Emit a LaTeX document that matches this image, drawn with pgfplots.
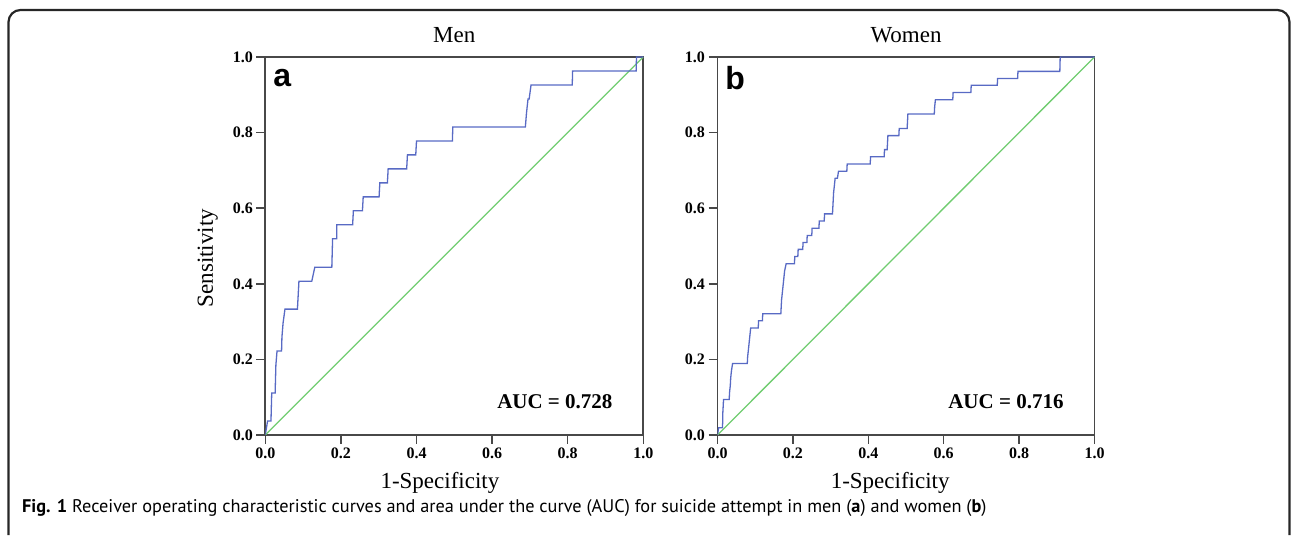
\documentclass[border=0pt]{standalone}
\usepackage{pgfplots}
\pgfplotsset{compat=1.18}
\usepackage{fontspec}
\setmainfont{Liberation Serif}
\newfontfamily\capfont{PT Sans}
\newfontfamily\arialfont{Liberation Sans}
\definecolor{rocblue}{RGB}{88,106,196}
\definecolor{rocgreen}{RGB}{112,204,112}
\definecolor{axgray}{RGB}{72,72,72}

\pgfplotstableread{
x y
0 0
0.006 0.037
0.015 0.037
0.016 0.074
0.017 0.111
0.026 0.111
0.027 0.148
0.028 0.185
0.031 0.222
0.043 0.222
0.044 0.259
0.047 0.296
0.052 0.333
0.085 0.333
0.087 0.370
0.089 0.407
0.123 0.407
0.131 0.444
0.176 0.444
0.177 0.481
0.178 0.519
0.189 0.519
0.189 0.556
0.231 0.556
0.233 0.593
0.257 0.593
0.259 0.630
0.301 0.630
0.303 0.667
0.323 0.667
0.325 0.704
0.374 0.704
0.376 0.741
0.398 0.741
0.400 0.778
0.495 0.778
0.496 0.815
0.688 0.815
0.691 0.852
0.695 0.889
0.698 0.889
0.703 0.926
0.812 0.926
0.813 0.963
0.981 0.963
0.982 1.0
1 1
}\men

\pgfplotstableread{
x y
0 0
0.003 0.019
0.013 0.019
0.014 0.038
0.014 0.057
0.015 0.075
0.016 0.094
0.031 0.094
0.032 0.113
0.034 0.132
0.035 0.151
0.037 0.170
0.040 0.189
0.079 0.189
0.080 0.208
0.082 0.226
0.084 0.245
0.086 0.264
0.088 0.283
0.108 0.283
0.109 0.302
0.119 0.302
0.120 0.321
0.168 0.321
0.169 0.340
0.170 0.358
0.172 0.377
0.174 0.396
0.176 0.415
0.178 0.434
0.182 0.453
0.204 0.453
0.205 0.472
0.213 0.472
0.214 0.491
0.226 0.491
0.227 0.509
0.237 0.509
0.238 0.528
0.250 0.528
0.251 0.547
0.269 0.547
0.270 0.566
0.283 0.566
0.284 0.585
0.305 0.585
0.306 0.604
0.307 0.623
0.308 0.642
0.310 0.660
0.312 0.679
0.318 0.679
0.321 0.698
0.343 0.698
0.344 0.717
0.405 0.717
0.406 0.736
0.442 0.736
0.443 0.755
0.450 0.755
0.451 0.774
0.452 0.792
0.481 0.792
0.482 0.811
0.503 0.811
0.504 0.830
0.505 0.849
0.575 0.849
0.576 0.868
0.578 0.887
0.624 0.887
0.625 0.906
0.672 0.906
0.673 0.925
0.742 0.925
0.743 0.943
0.796 0.943
0.797 0.962
0.908 0.962
0.909 1.0
1 1
}\women

\pgfplotsset{
  rocaxis/.style={
    width=378pt, height=378pt, scale only axis,
    anchor=south west,
    xmin=0, xmax=1, ymin=0, ymax=1,
    xtick={0,0.2,...,1}, ytick={0,0.2,...,1},
    xtick pos=bottom, ytick pos=left,
    tick align=outside, major tick length=9pt,
    axis line style={axgray, line width=1.8pt},
    every tick/.style={axgray, line width=1.5pt},
    /pgf/number format/assume math mode=true,
    /pgf/number format/.cd, fixed, fixed zerofill, precision=1, /pgfplots/.cd,
    ticklabel style={font=\bfseries\fontsize{16}{16}\selectfont, text=black},
    title style={font=\fontsize{23}{23}\selectfont, yshift=5pt},
    label style={font=\fontsize{23}{23}\selectfont},
    xlabel={1-Specificity},
    xlabel style={at={(axis description cs:0.462,-0.126)}, anchor=center},
  }
}

\begin{document}
\begin{tikzpicture}[x=1pt,y=1pt]
\useasboundingbox (0,0) rectangle (1292,535);
\draw[line width=2.2pt, black!85, rounded corners=12pt] (8.5,0) -- (8.5,525) -- (1289.5,525) -- (1289.5,0);

\begin{axis}[rocaxis, at={(265.3pt,100pt)}, title={Men},
  ylabel={Sensitivity},
  ylabel style={at={(axis description cs:-0.152,0.468)}, anchor=center, rotate=0}]
\addplot[rocgreen, line width=1.3pt] coordinates {(0,0) (1,1)};
\addplot[rocblue, line width=1.3pt] table[x=x, y=y] {\men};
\node[font=\arialfont\bfseries\fontsize{32}{32}\selectfont] at (axis description cs:0.045,0.945) {a};
\node[font=\bfseries\fontsize{21}{21}\selectfont] at (axis description cs:0.766,0.087) {AUC = 0.728};
\end{axis}

\begin{axis}[rocaxis, at={(717.5pt,100pt)}, width=377pt, title={Women},
  xlabel style={at={(axis description cs:0.458,-0.126)}}]
\addplot[rocgreen, line width=1.3pt] coordinates {(0,0) (1,1)};
\addplot[rocblue, line width=1.3pt] table[x=x, y=y] {\women};
\node[font=\arialfont\bfseries\fontsize{32}{32}\selectfont] at (axis description cs:0.047,0.945) {b};
\node[font=\bfseries\fontsize{21}{21}\selectfont] at (axis description cs:0.765,0.087) {AUC = 0.716};
\end{axis}

\node[anchor=base west, font=\capfont\fontsize{18.3}{18.3}\selectfont, inner sep=0pt] at (22,23)
  {\textbf{Fig. 1} Receiver operating characteristic curves and area under the curve (AUC) for suicide attempt in men (\textbf{a}) and women (\textbf{b})};
\end{tikzpicture}
\end{document}
